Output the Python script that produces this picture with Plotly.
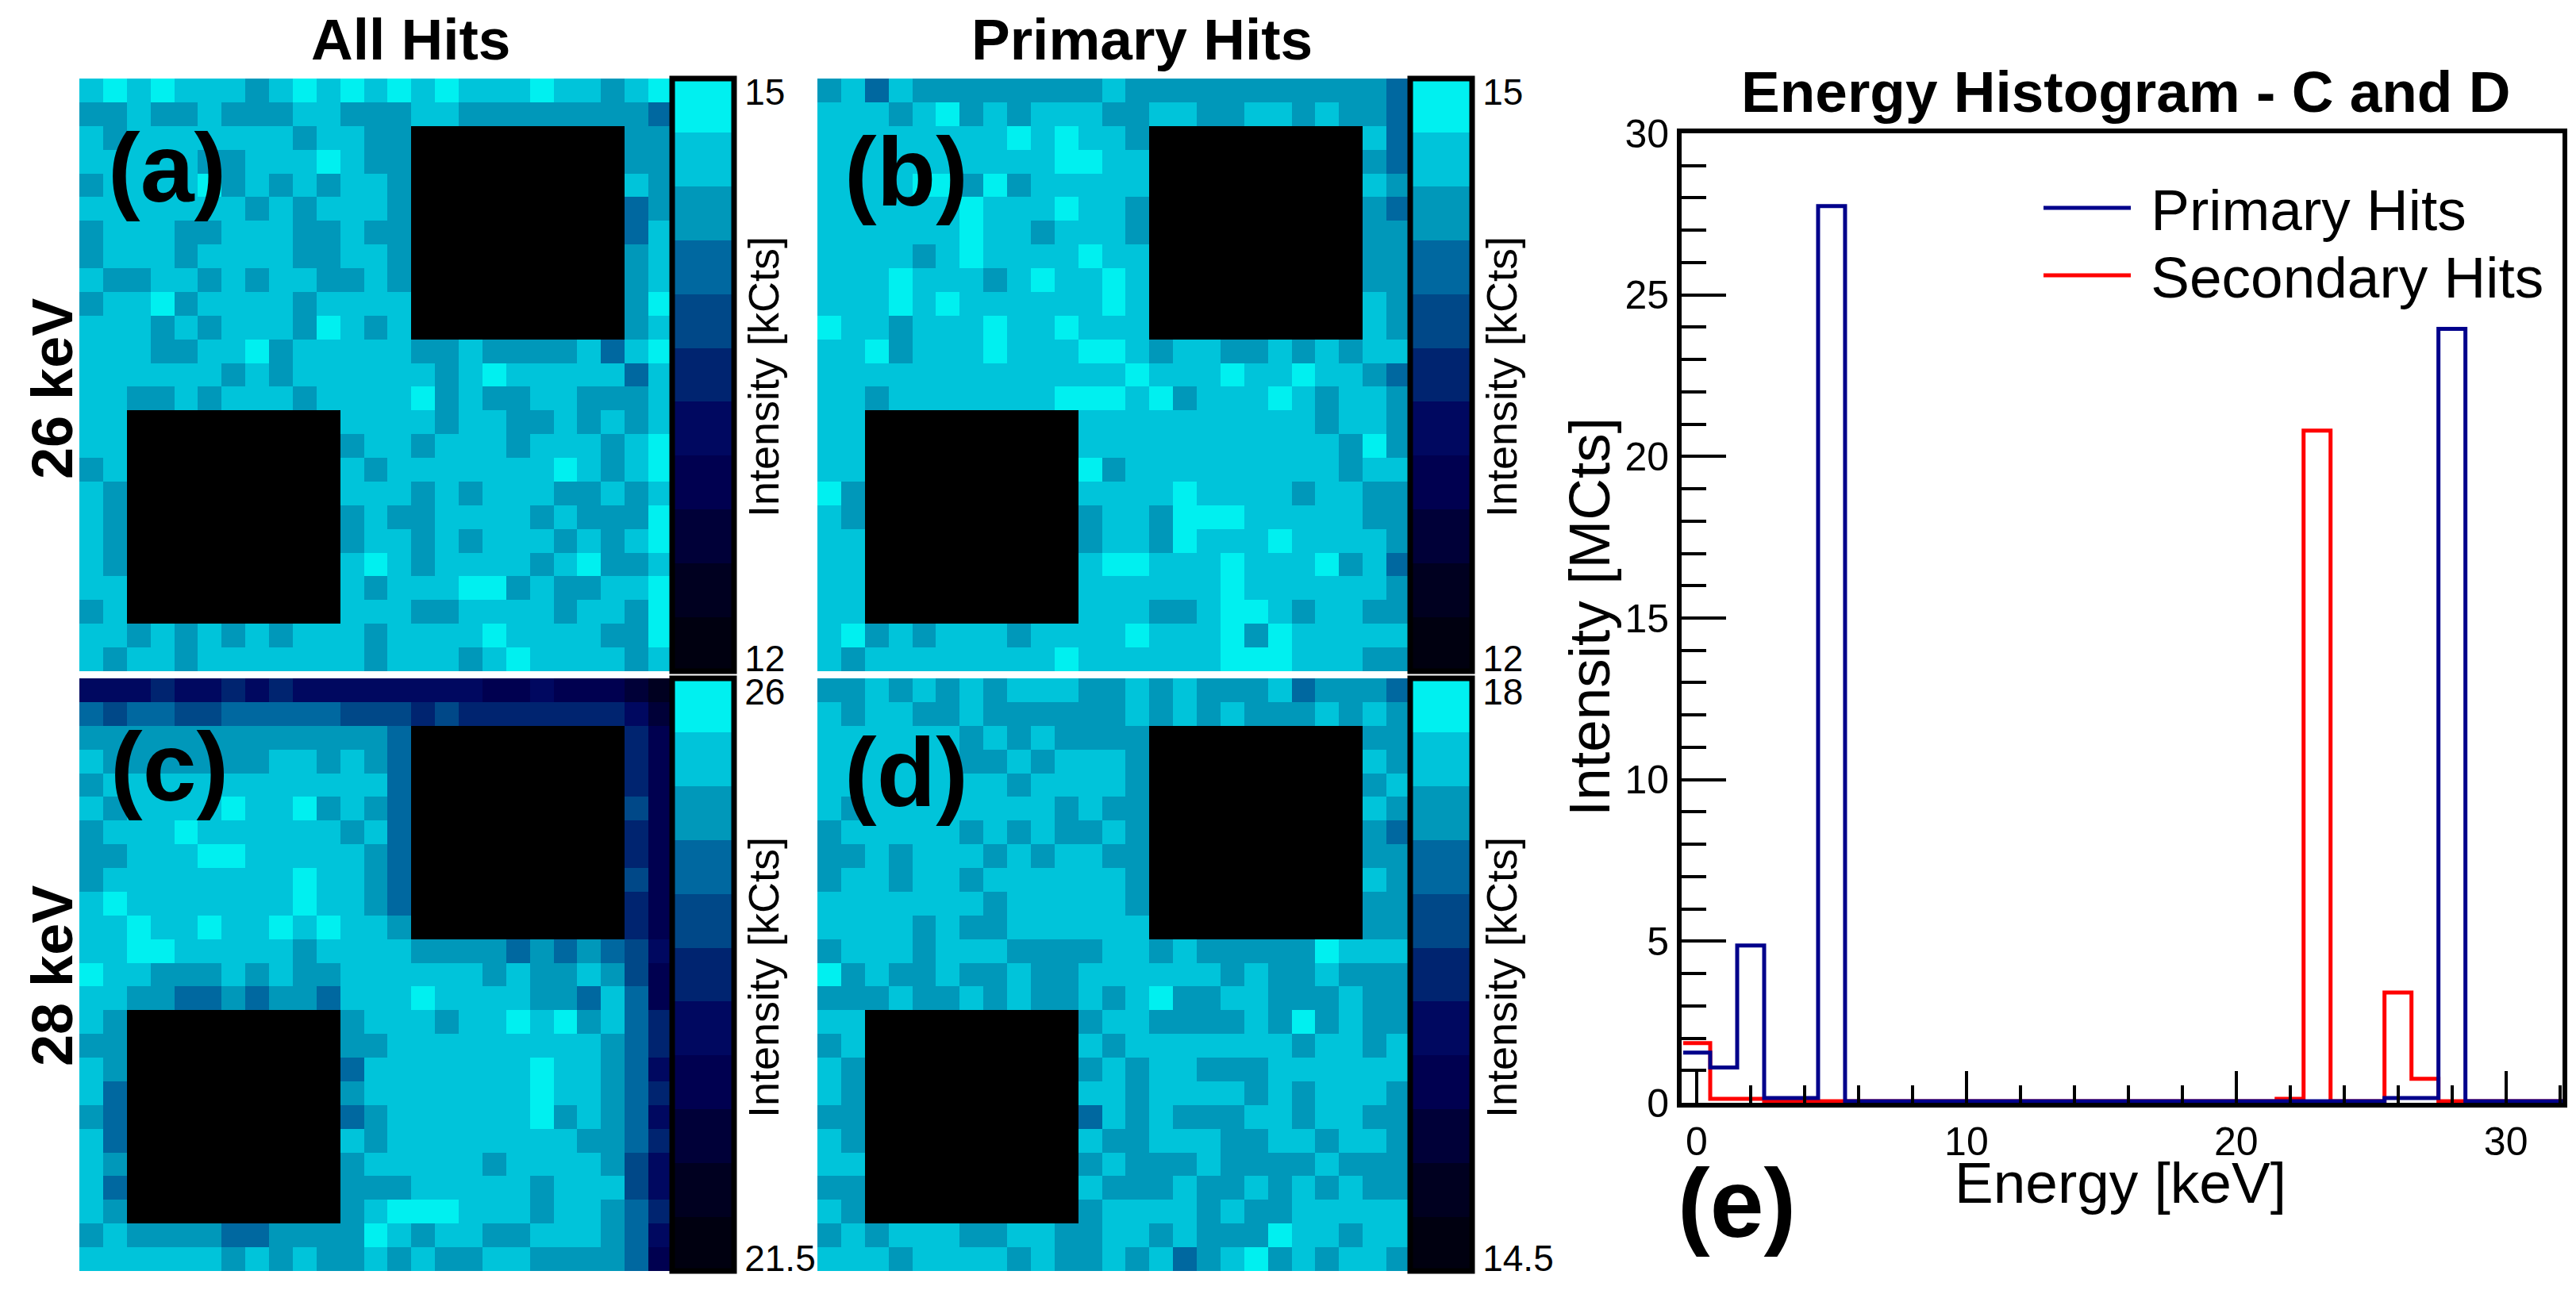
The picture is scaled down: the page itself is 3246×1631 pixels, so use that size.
import plotly.graph_objects as go

W, H = 3246, 1631
PAGE_MARGIN = 8  # browser's default body margin
FIG_W, FIG_H = W - 2 * PAGE_MARGIN, H - 2 * PAGE_MARGIN
FONT = "Liberation Sans"

# --- colorbar bands, darkest first (11 steps, index = band number, 'a' = 10) ---
band_colors = ["#000010", "#000020", "#000038", "#000050", "#000860", "#002470",
               "#004888", "#0068A0", "#0098BA", "#00C4DA", "#00F0F0"]

# --- pixel maps as band codes, '.' = masked (black) pixel ---
mask = "........."
rows_a = [
    "9a9a99989a9a9a9a999a9989a",
    "8898898889988899888888887",
    "98999999989988" + mask + "88",
    "9999988999a988" + mask + "88",
    "89999a89898998" + mask + "98",
    "99999998989998" + mask + "78",
    "89998899988988" + mask + "79",
    "89998999988998" + mask + "89",
    "98899898998898" + mask + "89",
    "899a8999989999" + mask + "8a",
    "9998989998a989" + mask + "89",
    "9998899a8999998898888979a",
    "99999989899999989a9999979",
    "99889899989999a8988998889",
    "99" + mask + "99998998898989",
    "99" + mask + "8998999899989a",
    "89" + mask + "989999999a989a",
    "98" + mask + "99989899988989",
    "98" + mask + "8988999989888a",
    "98" + mask + "8998989998989a",
    "98" + mask + "9a98999989a889",
    "99" + mask + "98999aa898899a",
    "89" + mask + "9998899998998a",
    "99898989899989999a999988a",
    "989989999999899989a999989",
]
rows_b = [
    "8979888888889888888888887",
    "99989a8989998899889989887",
    "99999999a9a998" + mask + "97",
    "9999999999aa99" + mask + "87",
    "9999aa8a899999" + mask + "98",
    "999999a999a998" + mask + "87",
    "999999a9989998" + mask + "88",
    "999989a9999a99" + mask + "88",
    "999a99989a99a9" + mask + "88",
    "999a9a999999a9" + mask + "98",
    "a998999a99a999" + mask + "98",
    "99a8999a999aa989988989899",
    "9999999999999a999a99a9987",
    "9989999999aaa9a8999a98998",
    "99" + mask + "99999999998998",
    "99" + mask + "999999999998a8",
    "99" + mask + "a8999999999899",
    "a8" + mask + "9999a999989988",
    "98" + mask + "8998aaa9999988",
    "99" + mask + "8998a999a99998",
    "99" + mask + "9aa999a999a897",
    "99" + mask + "999999a9999998",
    "99" + mask + "999889aa989988",
    "9a89899989999a999a8a99999",
    "9899999999a999999aaa99988",
]
rows_c = [
    "4445445454444444433433321",
    "7677667777766656555555542",
    "88888888888887" + mask + "53",
    "98888888998987" + mask + "53",
    "89999999999997" + mask + "53",
    "989999a99a8987" + mask + "63",
    "8999a999999897" + mask + "53",
    "88999aa9999987" + mask + "53",
    "899999999a9987" + mask + "63",
    "9a9999999a9987" + mask + "53",
    "99a99a99a9a998" + mask + "53",
    "99aa999998999988887878764",
    "a998889898899999989889863",
    "99887787887999a9999887973",
    "98" + mask + "8999899a9a8975",
    "88" + mask + "88999999999875",
    "98" + mask + "79999999a99874",
    "97" + mask + "89999999a99875",
    "87" + mask + "78999999a89874",
    "97" + mask + "98999999998875",
    "98" + mask + "89999989999864",
    "97" + mask + "88899999899964",
    "98" + mask + "89aaa999899875",
    "898888778888a989988999874",
    "9999998989889898899888873",
]
rows_d = [
    "8898989899988989888978887",
    "9899889888888989898889898",
    "99999989898888" + mask + "88",
    "99999988989998" + mask + "98",
    "99999999899998" + mask + "89",
    "98999999998988" + mask + "98",
    "89999989898898" + mask + "87",
    "88989998989988" + mask + "88",
    "89989989999998" + mask + "98",
    "99999998999998" + mask + "88",
    "99998988999999" + mask + "88",
    "899989998888998988888a999",
    "a898898898899999989889888",
    "88898898988989a8899888988",
    "99" + mask + "899888898a8988",
    "89" + mask + "98999999989989",
    "98" + mask + "89899888999999",
    "98" + mask + "99899998989998",
    "88" + mask + "79898889989988",
    "98" + mask + "98899988998998",
    "99" + mask + "89888988889888",
    "88" + mask + "98889889898988",
    "98" + mask + "89999898899999",
    "8989998899889989888a99899",
    "999899998988989789a898998",
]
for rows in (rows_a, rows_b, rows_c, rows_d):
    assert len(rows) == 25 and all(len(r) == 25 for r in rows), [len(r) for r in rows]

# colorbar limits per panel [kCts]
range_a = (12, 15)
range_b = (12, 15)
range_c = (21.5, 26)
range_d = (14.5, 18)

# --- energy histogram (1 keV bins centred on integers) [MCts] ---
bin_edges = [k - 0.5 for k in range(34)]
primary_hits = [1.55, 1.09, 4.87, 0.15, 0.15, 27.75, 0.05, 0.05, 0.05, 0.05, 0.05,
                0.05, 0.05, 0.05, 0.05, 0.05, 0.05, 0.05, 0.05, 0.05, 0.05, 0.05,
                0.05, 0.05, 0.05, 0.05, 0.15, 0.15, 23.95, 0.05, 0.05, 0.05, 0.05]
secondary_hits = [1.85, 0.12, 0.12, 0.05, 0.05, 0.05, 0.05, 0.05, 0.05, 0.05, 0.05,
                  0.05, 0.05, 0.05, 0.05, 0.05, 0.05, 0.05, 0.05, 0.05, 0.05, 0.05,
                  0.12, 20.8, 0.05, 0.05, 3.41, 0.74, 0.05, 0.05, 0.05, 0.05, 0.05]


# positions below are window pixels; the figure starts PAGE_MARGIN in
def px(x):
    return (x - PAGE_MARGIN) / FIG_W


def py(y):
    return 1 - (y - PAGE_MARGIN) / FIG_H


n_bands = len(band_colors)
band_scale = []
for i, c in enumerate(band_colors):
    band_scale += [[i / n_bands, c], [(i + 1) / n_bands, c]]


def to_kcts(rows, lo, hi):
    step = (hi - lo) / n_bands
    return [[None if ch == "." else lo + (int(ch, 16) + 0.5) * step for ch in r] for r in rows]


# (rows, range, left px, top px)
panels = [(rows_a, range_a, 100, 99), (rows_b, range_b, 1030, 99),
          (rows_c, range_c, 100, 855), (rows_d, range_d, 1030, 855)]
size = 747
bar_w = 78
fig = go.Figure()
layout_axes = {}
for n, (rows, (lo, hi), left, top) in enumerate(panels, start=1):
    inset = 0.022 * (hi - lo)  # labels sit just inside the bar ends
    fig.add_trace(go.Heatmap(
        z=to_kcts(rows, lo, hi), zmin=lo, zmax=hi, colorscale=band_scale,
        xaxis=f"x{n}", yaxis=f"y{n}", hoverinfo="skip",
        colorbar=dict(
            x=px(left + size), xanchor="left", xpad=0,
            y=py(top + size), yanchor="bottom", ypad=0,
            thickness=bar_w, thicknessmode="pixels", len=size, lenmode="pixels",
            outlinecolor="black", outlinewidth=7, borderwidth=0,
            tickmode="array", tickvals=[lo + inset, hi - inset],
            ticktext=[f"{lo:g}", f"{hi:g}"], ticks="", ticklen=0,
            tickfont=dict(family=FONT, size=46, color="black"),
        ),
    ))
    fig.add_trace(go.Heatmap(
        z=[[1 if ch == "." else None for ch in r] for r in rows],
        colorscale=[[0, "black"], [1, "black"]], showscale=False,
        xaxis=f"x{n}", yaxis=f"y{n}", hoverinfo="skip",
    ))
    layout_axes[f"xaxis{n}"] = dict(domain=[px(left), px(left + size)], visible=False,
                                    range=[-0.5, 24.5], anchor=f"y{n}")
    layout_axes[f"yaxis{n}"] = dict(domain=[py(top + size), py(top)], visible=False,
                                    range=[24.5, -0.5], anchor=f"x{n}")

fig.add_trace(go.Scatter(x=bin_edges, y=secondary_hits + secondary_hits[-1:], name="\u00a0Secondary Hits",
                         mode="lines", line=dict(color="#FF0000", width=5, shape="hv"),
                         xaxis="x5", yaxis="y5", hoverinfo="skip", legend="legend2"))
fig.add_trace(go.Scatter(x=bin_edges, y=primary_hits + primary_hits[-1:], name="\u00a0Primary Hits",
                         mode="lines", line=dict(color="#00008B", width=5, shape="hv"),
                         xaxis="x5", yaxis="y5", hoverinfo="skip", legend="legend"))

tick_font = dict(family=FONT, size=50, color="black")
layout_axes["xaxis5"] = dict(
    domain=[px(2119), px(3229)], range=[-0.56, 32.1], anchor="y5",
    showline=True, linecolor="black", linewidth=6, mirror=True, showgrid=False, zeroline=False,
    tickmode="array", tickvals=[0, 10, 20, 30], ticks="inside", ticklen=40, tickwidth=3.5,
    tickcolor="black", tickfont=tick_font,
    minor=dict(tickvals=[2, 4, 6, 8, 12, 14, 16, 18, 22, 24, 26, 28, 32], ticks="inside",
               ticklen=22, tickwidth=3.5, tickcolor="black"),
)
layout_axes["yaxis5"] = dict(
    domain=[py(1390), py(168)], range=[0, 30], anchor="x5",
    showline=True, linecolor="black", linewidth=6, mirror=True, showgrid=False, zeroline=False,
    dtick=5, ticks="inside", ticklen=56, tickwidth=4, tickcolor="black", tickfont=tick_font,
    minor=dict(dtick=1, ticks="inside", ticklen=31, tickwidth=4, tickcolor="black"),
)


def note(text, x, y, size, bold=False, angle=0):
    label = f"<b>{text}</b>" if bold else text
    return dict(text=label, x=px(x), y=py(y), xref="paper", yref="paper", showarrow=False,
                xanchor="center", yanchor="middle", textangle=angle,
                font=dict(family=FONT, size=size, color="black"))


annotations = [
    note("All Hits", 517, 50, 73, True),
    note("Primary Hits", 1439, 50, 73, True),
    note("Energy Histogram - C and D", 2678, 116, 73, True),
    note("26 keV", 66, 490, 72, True, -90),
    note("28 keV", 66, 1230, 72, True, -90),
    note("(a)", 210, 212, 122, True),
    note("(b)", 1142, 217, 122, True),
    note("(c)", 213, 967, 122, True),
    note("(d)", 1142, 974, 122, True),
    note("(e)", 2188, 1517, 122, True),
    note("Intensity [kCts]", 962, 475, 54, False, -90),
    note("Intensity [kCts]", 1892, 475, 54, False, -90),
    note("Intensity [kCts]", 962, 1232, 54, False, -90),
    note("Intensity [kCts]", 1892, 1232, 54, False, -90),
    note("Energy [keV]", 2672, 1490, 73),
    note("Intensity [MCts]", 2003, 778, 73, False, -90),
]


def legend_at(y):
    return dict(x=px(2570), xanchor="left", y=py(y), yanchor="middle",
                bgcolor="rgba(0,0,0,0)", itemwidth=110, itemsizing="trace",
                font=dict(family=FONT, size=73, color="black"))


fig.update_layout(
    width=FIG_W, height=FIG_H, margin=dict(l=0, r=0, t=0, b=0, autoexpand=False),
    paper_bgcolor="white", plot_bgcolor="white",
    annotations=annotations,
    showlegend=True,
    legend=legend_at(262),
    legend2=legend_at(347),
    **layout_axes,
)
fig.write_html("out.html")
